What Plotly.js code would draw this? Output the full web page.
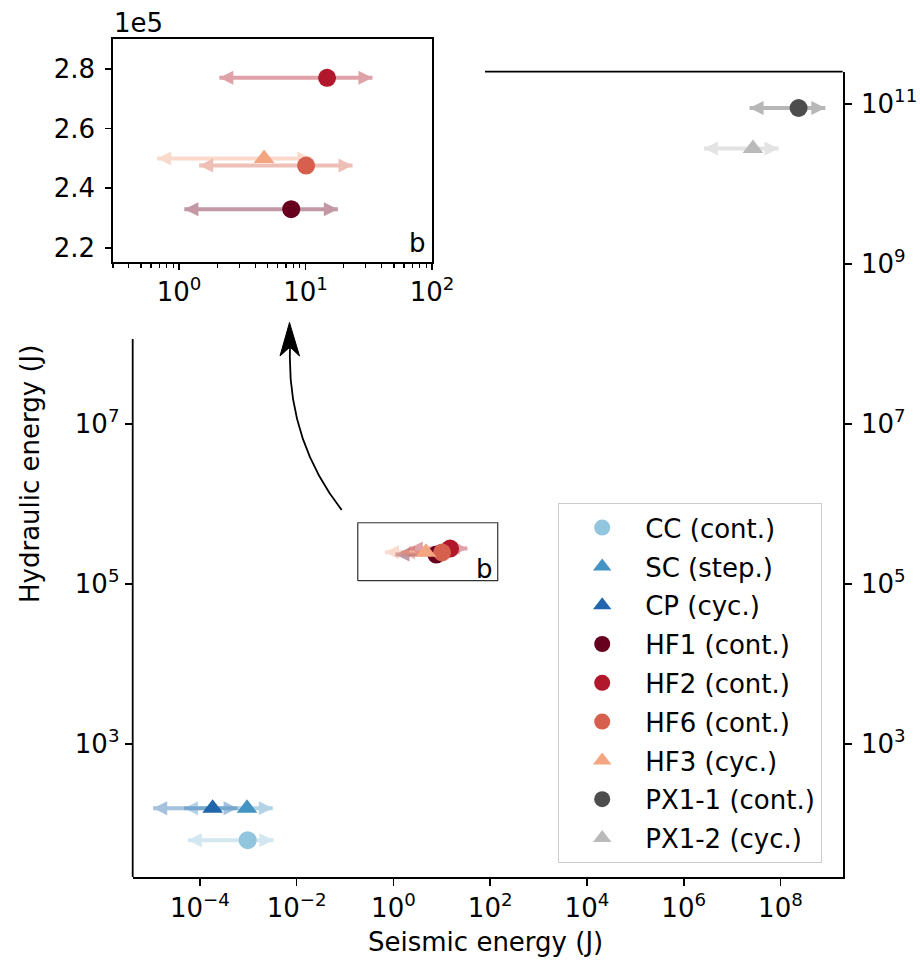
<!DOCTYPE html>
<html><head><meta charset="utf-8">
<script src="https://cdn.plot.ly/plotly-3.0.1.min.js"></script>
<style>body{margin:0;background:#fff}</style>
</head><body><div id="chart" style="width:920px;height:963px"></div>
<script>
// ---- data ----
const names = ['CC (cont.)','SC (step.)','CP (cyc.)','HF1 (cont.)','HF2 (cont.)','HF6 (cont.)','HF3 (cyc.)','PX1-1 (cont.)','PX1-2 (cyc.)'];
const seismic     = [9.7e-4, 9.4e-4, 1.83e-4, 7.7, 14.8, 10.1, 4.7, 2.37e8, 2.7e7];
const seismicLow  = [5.6e-5, 4.7e-5, 1.08e-5, 1.10, 2.08, 1.44, 0.67, 2.3e7, 2.62e6];
const seismicHigh = [3.3e-3, 3.2e-3, 6.0e-4, 18.0, 33.8, 23.5, 11.1, 8.45e8, 9.1e7];
const hydraulic   = [63, 158, 158, 2.33e5, 2.77e5, 2.476e5, 2.50e5, 8.84e10, 2.76e10];
const symbols = ['circle','triangle-up','triangle-up','circle','circle','circle','triangle-up','circle','triangle-up'];
const colors  = ['#92c5de','#4393c3','#2166ac','#67001f','#b2182b','#d6604d','#f4a582','#4d4d4d','#bababa'];
const inInset = [false,false,false,true,true,true,true,false,false];

const mainXTicks = [1e-4,1e-2,1,1e2,1e4,1e6,1e8];
const mainXText  = ['10<sup>−4</sup>','10<sup>−2</sup>','10<sup>0</sup>','10<sup>2</sup>','10<sup>4</sup>','10<sup>6</sup>','10<sup>8</sup>'];
const leftYTicks = [1e3,1e5,1e7];
const rightYTicks = [1e3,1e5,1e7,1e9,1e11];
const yText = v => '10<sup>' + Math.round(Math.log10(v)) + '</sup>';
const insetXTicks = [1,10,100];
const insetXText = ['10<sup>0</sup>','10<sup>1</sup>','10<sup>2</sup>'];
const insetXMinor = [0.3,0.4,0.5,0.6,0.7,0.8,0.9,2,3,4,5,6,7,8,9,20,30,40,50,60,70,80,90];
const insetYTicks = [2.2e5,2.4e5,2.6e5,2.8e5];
const insetYText = ['2.2','2.4','2.6','2.8'];
const insetXRange = [0.3, 100];
const insetYRange = [2.152e5, 2.90e5];
const boxX = [0.183, 143];
const boxY = [1.10e5, 5.83e5];

// ---- geometry helpers (plot area in pixels) ----
const L = 113, T = 39, W = 730, H = 838;
const PX = x => (x - L) / W;
const PY = y => (T + H - y) / H;
const FONT = 'DejaVu Sans, Verdana, sans-serif';
const FS = 26;

const traces = [];
function arrowTrace(i, xa, ya) {
  return {x:[seismicLow[i], seismicHigh[i]], y:[hydraulic[i], hydraulic[i]], xaxis:xa, yaxis:ya,
    mode:'lines+markers', line:{color:colors[i], width:4},
    marker:{symbol:['arrow-left','arrow-right'], size:14, color:colors[i], line:{width:0}},
    opacity:0.4, showlegend:false, hoverinfo:'skip'};
}
for (let i = 0; i < names.length; i++) {
  traces.push(arrowTrace(i,'x','y'));
  if (inInset[i]) traces.push(arrowTrace(i,'x2','y2'));
}
// inset box in main axes
traces.push({x:[boxX[0],boxX[1],boxX[1],boxX[0],boxX[0]], y:[boxY[0],boxY[0],boxY[1],boxY[1],boxY[0]],
  xaxis:'x', yaxis:'y', mode:'lines', line:{color:'#333', width:1.2}, showlegend:false, hoverinfo:'skip'});
for (let i = 0; i < names.length; i++) {
  traces.push({x:[seismic[i]], y:[hydraulic[i]], xaxis:'x', yaxis:'y', mode:'markers', name:names[i],
    legendgroup:'g'+i, marker:{symbol:symbols[i], size:18, color:colors[i], line:{width:0}}, showlegend:true});
  if (inInset[i]) traces.push({x:[seismic[i]], y:[hydraulic[i]], xaxis:'x2', yaxis:'y2', mode:'markers', name:names[i],
    legendgroup:'g'+i, marker:{symbol:symbols[i], size:18, color:colors[i], line:{width:0}}, showlegend:false});
}
// right-hand duplicate y axis needs a (invisible) trace to be drawn
traces.push({x:[seismic[7]], y:[hydraulic[7]], xaxis:'x', yaxis:'y3', mode:'markers', marker:{opacity:0, size:1},
  showlegend:false, hoverinfo:'skip'});

const axBase = {showgrid:false, zeroline:false, ticks:'outside', ticklen:7, tickwidth:1.6, tickcolor:'#000',
  linecolor:'#000', linewidth:1.8, tickfont:{family:FONT, size:FS, color:'#000'}};

// curved arrow
const p0 = [341.7,510], c = [287,440], p1 = [290,348];
const curvePath = `M${PX(p0[0])},${PY(p0[1])} Q${PX(c[0])},${PY(c[1])} ${PX(p1[0])},${PY(p1[1])}`;
const headPath = `M${PX(289.5)},${PY(322.5)} L${PX(299.5)},${PY(356)} L${PX(290)},${PY(347)} L${PX(280)},${PY(356)} Z`;

const layout = {
  width:920, height:963, paper_bgcolor:'#fff', plot_bgcolor:'rgba(0,0,0,0)',
  margin:{l:L, r:920-L-W, t:T, b:963-T-H},
  font:{family:FONT, size:FS, color:'#000'},
  showlegend:true,
  legend:{x:PX(558), y:PY(503), xanchor:'left', yanchor:'top', bgcolor:'rgba(255,255,255,0.8)',
    bordercolor:'#cccccc', borderwidth:1.2, font:{family:FONT, size:FS, color:'#000'},
    traceorder:'grouped', tracegroupgap:2, itemwidth:76},
  xaxis: Object.assign({}, axBase, {type:'log', range:[-5.39, 9.293], domain:[PX(132.7), 1], anchor:'y',
    tickmode:'array', tickvals:mainXTicks, ticktext:mainXText, showline:true, mirror:false}),
  yaxis: Object.assign({}, axBase, {type:'log', range:[1.34, 11.40], domain:[0, PY(71.7)], anchor:'x',
    tickmode:'array', tickvals:leftYTicks, ticktext:leftYTicks.map(yText), showline:false}),
  yaxis3: Object.assign({}, axBase, {type:'log', range:[1.34, 11.40], overlaying:'y', side:'right', anchor:'x',
    tickmode:'array', tickvals:rightYTicks, ticktext:rightYTicks.map(yText), showline:true, ticklabelstandoff:4}),
  xaxis2: Object.assign({}, axBase, {type:'log', range:[Math.log10(insetXRange[0]), Math.log10(insetXRange[1])],
    domain:[0, PX(432)], anchor:'y2', tickmode:'array', tickvals:insetXTicks, ticktext:insetXText,
    showline:true, mirror:true, ticklen:6,
    minor:{ticks:'outside', ticklen:3.5, tickwidth:1.2, tickcolor:'#000', tickmode:'array', tickvals:insetXMinor, showgrid:false}}),
  yaxis2: Object.assign({}, axBase, {range:insetYRange, domain:[PY(262.3), 1], anchor:'x2',
    tickmode:'array', tickvals:insetYTicks, ticktext:insetYText, showline:true, mirror:true, ticklen:6, ticklabelstandoff:5}),
  shapes:[
    {type:'line', xref:'paper', yref:'paper', x0:PX(132.7), x1:PX(132.7), y0:PY(339), y1:PY(877), line:{color:'#000', width:1.8}},
    {type:'line', xref:'paper', yref:'paper', x0:PX(485), x1:PX(842.7), y0:PY(71.7), y1:PY(71.7), line:{color:'#000', width:1.8}},
    {type:'path', xref:'paper', yref:'paper', path:curvePath, line:{color:'#000', width:1.8}},
    {type:'path', xref:'paper', yref:'paper', path:headPath, fillcolor:'#000', line:{color:'#000', width:1}}
  ],
  annotations:[
    {xref:'paper', yref:'paper', x:PX(112), y:PY(23), xanchor:'left', yanchor:'middle', text:'1e5', showarrow:false, font:{family:FONT, size:FS}},
    {xref:'paper', yref:'paper', x:PX(417), y:PY(243), xanchor:'center', yanchor:'middle', text:'b', showarrow:false, font:{family:FONT, size:FS}},
    {xref:'paper', yref:'paper', x:PX(484), y:PY(569), xanchor:'center', yanchor:'middle', text:'b', showarrow:false, font:{family:FONT, size:FS}},
    {xref:'paper', yref:'paper', x:PX(486), y:PY(942), xanchor:'center', yanchor:'middle', text:'Seismic energy (J)', showarrow:false, font:{family:FONT, size:FS}},
    {xref:'paper', yref:'paper', x:PX(30), y:PY(474), xanchor:'center', yanchor:'middle', text:'Hydraulic energy (J)', textangle:-90, showarrow:false, font:{family:FONT, size:FS}}
  ]
};
Plotly.newPlot('chart', traces, layout, {displayModeBar:false, staticPlot:true});
</script></body></html>
